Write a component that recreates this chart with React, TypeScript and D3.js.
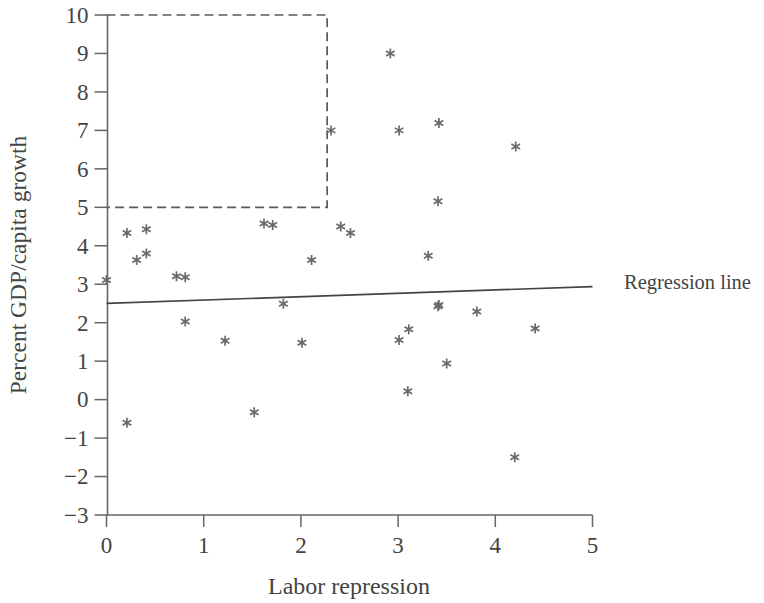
import React from "react";
import * as d3 from "d3";

const pointX = [2.92, 2.31, 3.01, 3.42, 4.21, 3.41, 0.0, 0.21, 0.41, 0.31, 0.41, 0.72, 0.81, 1.62, 1.71, 2.11, 2.41, 2.51, 3.31, 0.81, 1.22, 1.82, 2.01, 0.21, 1.52, 3.41, 3.42, 3.81, 3.11, 3.01, 4.41, 3.5, 3.1, 4.2];
const pointY = [9.0, 7.0, 7.0, 7.19, 6.58, 5.16, 3.11, 4.33, 4.43, 3.63, 3.8, 3.21, 3.18, 4.58, 4.54, 3.63, 4.5, 4.33, 3.74, 2.03, 1.53, 2.49, 1.48, -0.6, -0.33, 2.43, 2.46, 2.29, 1.83, 1.55, 1.85, 0.94, 0.22, -1.5];
const regX = [0, 5];
const regY = [2.5, 2.94];
const boxX = [0, 2.27];
const boxY = [5, 10];
const xTicks = [0, 1, 2, 3, 4, 5];
const yTicks = [10, 9, 8, 7, 6, 5, 4, 3, 2, 1, 0, -1, -2, -3];

const W = 764, H = 603;
const left = 106.5, right = 592.5, top = 15, bottom = 515;

function fmt(v: number) {
  return v < 0 ? "\u2212" + Math.abs(v) : String(v);
}

export default function App() {
  const x = d3.scaleLinear().domain([0, 5]).range([left, right]);
  const y = d3.scaleLinear().domain([-3, 10]).range([bottom, top]);
  const line = d3.line<number>().x((_, i) => x(regX[i])).y((d) => y(d));
  const r = 5;
  const star = (cx: number, cy: number) => {
    let p = "";
    [90, 30, 150].forEach((a) => {
      const rad = (a * Math.PI) / 180;
      const dx = r * Math.cos(rad), dy = r * Math.sin(rad);
      p += `M${cx - dx},${cy - dy}L${cx + dx},${cy + dy}`;
    });
    return p;
  };
  const font = "'Liberation Serif', 'DejaVu Serif', serif";
  const textColor = "#444";
  const axisColor = "#666";
  return (
    <svg width={W} height={H} style={{ position: "absolute", left: 0, top: 0, background: "#fff" }} fontFamily={font}>
      {/* dashed box */}
      <path
        d={`M${x(boxX[0])},${y(boxY[1])}L${x(boxX[1])},${y(boxY[1])}L${x(boxX[1])},${y(boxY[0])}L${x(boxX[0])},${y(boxY[0])}`}
        fill="none"
        stroke="#5a5a5a"
        strokeWidth={1.7}
        strokeDasharray="9,5"
      />
      {/* axes */}
      <line x1={left + 1} x2={left + 1} y1={top} y2={bottom} stroke={axisColor} strokeWidth={1.6} />
      <line x1={left} x2={right} y1={bottom} y2={bottom} stroke={axisColor} strokeWidth={1.6} />
      {yTicks.map((t) => (
        <g key={"y" + t}>
          <line x1={left - 12} x2={left + 1} y1={y(t)} y2={y(t)} stroke={axisColor} strokeWidth={1.5} />
          <text x={left - 18} y={y(t)} dy="0.34em" textAnchor="end" fontSize={23} fill={textColor}>
            {fmt(t)}
          </text>
        </g>
      ))}
      {xTicks.map((t) => (
        <g key={"x" + t}>
          <line x1={x(t)} x2={x(t)} y1={bottom} y2={bottom + 12} stroke={axisColor} strokeWidth={1.5} />
          <text x={x(t)} y={553} textAnchor="middle" fontSize={23} fill={textColor}>
            {t}
          </text>
        </g>
      ))}
      {/* regression line */}
      <path d={line(regY) || ""} fill="none" stroke="#444" strokeWidth={1.7} />
      <text x={624} y={289} fontSize={20.5} fill={textColor}>
        Regression line
      </text>
      {/* points */}
      {pointX.map((px, i) => (
        <path key={"p" + i} d={star(x(px), y(pointY[i]))} stroke="#6a6a6a" strokeWidth={1.7} fill="none" />
      ))}
      {/* axis titles */}
      <text x={349} y={594} textAnchor="middle" fontSize={24} fill={textColor}>
        Labor repression
      </text>
      <text transform={`translate(26,${(top + bottom) / 2}) rotate(-90)`} textAnchor="middle" fontSize={23.5} fill={textColor}>
        Percent GDP/capita growth
      </text>
    </svg>
  );
}
